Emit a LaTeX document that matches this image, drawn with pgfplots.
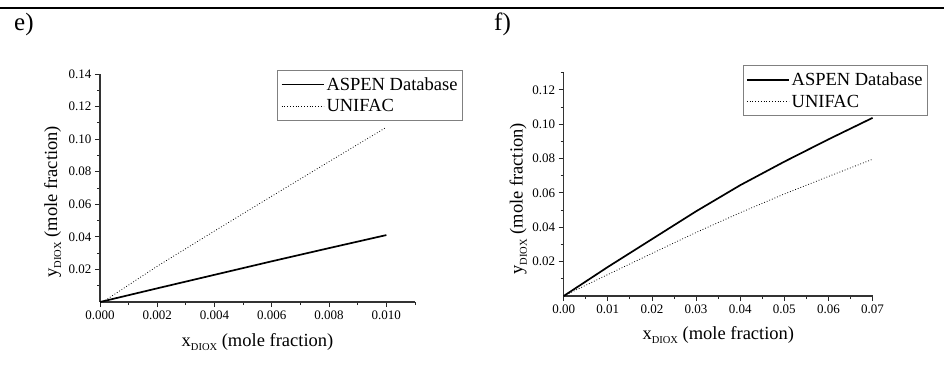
\documentclass[border=0pt]{standalone}
\usepackage{pgfplots}
\pgfplotsset{compat=1.18}
\usepackage{fontspec}
\setmainfont{Liberation Serif}
\newcommand{\sub}[1]{\raisebox{-0.5ex}{\fontsize{10.5}{10.5}\selectfont #1}}
\begin{document}
\begin{tikzpicture}
\path[use as bounding box] (0pt,0pt) rectangle (944pt,378pt);
\draw[line width=2.5pt] (0pt,370pt) -- (944pt,370pt);
\node[anchor=base west,inner sep=0pt,font=\fontsize{25}{25}\selectfont] at (14pt,347pt) {e)};
\node[anchor=base west,inner sep=0pt,font=\fontsize{25}{25}\selectfont] at (494pt,347pt) {f)};
\pgfplotsset{mystyle/.style={
  scale only axis, axis x line*=bottom, axis y line*=left,
  tick align=outside, major tick length=5pt, minor tick length=3pt,
  every tick/.style={black!85, line width=0.9pt},
  axis line style={line width=1.4pt, black!80},
  ticklabel style={font=\fontsize{13}{13}\selectfont},
  /pgf/number format/assume math mode=true,
  label style={font=\fontsize{18.5}{18.5}\selectfont},
  legend style={draw=gray, line width=0.7pt, font=\fontsize{18.5}{20}\selectfont,
    anchor=north east, cells={anchor=west}, inner xsep=3pt, inner ysep=5pt, row sep=4pt},
  legend image code/.code={\draw[##1] (0pt,0pt) -- (42pt,0pt);},
  clip=false}}
\begin{axis}[mystyle, at={(100pt,76pt)}, anchor=south west, width=315pt, height=228pt,
  xmin=0, xmax=0.011, ymin=0, ymax=0.14,
  xtick={0,0.002,0.004,0.006,0.008,0.010},
  minor xtick={0.001,0.003,0.005,0.007,0.009,0.011},
  ytick={0.02,0.04,0.06,0.08,0.10,0.12,0.14},
  minor ytick={0.01,0.03,0.05,0.07,0.09,0.11,0.13},
  xticklabel style={/pgf/number format/.cd, fixed, fixed zerofill, precision=3},
  yticklabel style={/pgf/number format/.cd, fixed, fixed zerofill, precision=2},
  scaled x ticks=false, scaled y ticks=false,
  xlabel={x\sub{DIOX} (mole fraction)}, ylabel={y\sub{DIOX} (mole fraction)},
  xlabel style={at={(rel axis cs:0.5,0)}, anchor=base, yshift=-44pt},
  ylabel style={at={(rel axis cs:0,0.44)}, anchor=base, yshift=43pt},
  legend style={at={(rel axis cs:1.152,1.018)}}]
\addplot[black, line width=1.7pt] coordinates {(0,0) (0.002,0.0084) (0.004,0.0167) (0.006,0.0250) (0.008,0.0331) (0.010,0.0411)};
\addplot[black, line width=0.8pt, dotted] coordinates {(0.0001,0) (0.002,0.0220) (0.004,0.0436) (0.006,0.0650) (0.008,0.0862) (0.010,0.1073)};
\legend{ASPEN Database, UNIFAC}
\end{axis}
\begin{axis}[mystyle, at={(563.7pt,82pt)}, anchor=south west, width=309.3pt, height=223.3pt,
  xmin=0, xmax=0.0701, ymin=0, ymax=0.13,
  xtick={0,0.01,0.02,0.03,0.04,0.05,0.06,0.07},
  minor xtick={0.005,0.015,0.025,0.035,0.045,0.055,0.065},
  ytick={0.02,0.04,0.06,0.08,0.10,0.12},
  minor ytick={0.01,0.03,0.05,0.07,0.09,0.11,0.13},
  xticklabel style={/pgf/number format/.cd, fixed, fixed zerofill, precision=2},
  yticklabel style={/pgf/number format/.cd, fixed, fixed zerofill, precision=2},
  scaled x ticks=false, scaled y ticks=false,
  xlabel={x\sub{DIOX} (mole fraction)}, ylabel={y\sub{DIOX} (mole fraction)},
  xlabel style={at={(rel axis cs:0.5,0)}, anchor=base, yshift=-43pt},
  ylabel style={at={(rel axis cs:0,0.435)}, anchor=base, yshift=41pt},
  legend style={at={(rel axis cs:1.178,1.033)}}]
\addplot[black, line width=1.7pt] coordinates {(0,0) (0.01,0.0169) (0.02,0.0331) (0.03,0.0493) (0.04,0.0645) (0.05,0.0782) (0.06,0.0912) (0.07,0.1037)};
\addplot[black, line width=0.8pt, dotted] coordinates {(0,0) (0.01,0.0125) (0.02,0.0248) (0.03,0.0370) (0.04,0.0485) (0.05,0.0594) (0.06,0.0696) (0.07,0.0796)};
\legend{ASPEN Database, UNIFAC}
\end{axis}
\end{tikzpicture}
\end{document}
